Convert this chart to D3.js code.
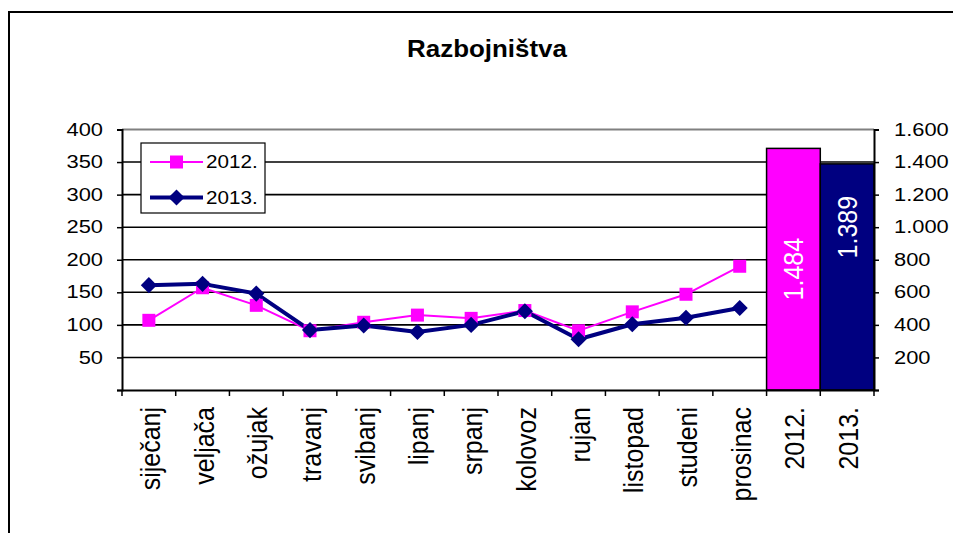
<!DOCTYPE html>
<html>
<head>
<meta charset="utf-8">
<script src="https://cdn.jsdelivr.net/npm/d3@7"></script>
<style>
body { margin: 0; background: #fff; }
svg { display: block; font-family: "Liberation Sans", Arial, sans-serif; }
</style>
</head>
<body>
<div id="container"></div>
<script>
const months = ["siječanj","veljača","ožujak","travanj","svibanj","lipanj","srpanj","kolovoz","rujan","listopad","studeni","prosinac"];
const years = ["2012.","2013."];
const values2012 = [107,157,130,91,104,115,110,122,91,120,147,190];
const values2013 = [161,163,148,92,99,89,100,121,78,101,111,126];
const totals = [1484,1389];
const totalLabelAt = [742,1000];
const leftTicks = [0,50,100,150,200,250,300,350,400];
const rightTicks = [0,200,400,600,800,1000,1200,1400,1600];

const w = 953, h = 533;
const plotL = 122, plotR = 874, plotT = 129.5, plotB = 390;
const pink = "#ff00ff", navy = "#000080";

const hr = d3.formatLocale({decimal: ",", thousands: ".", grouping: [3], currency: ["", ""]});
const fmt = hr.format(",d");

// stretch text horizontally a bit, the source fonts render wide
function widen(sel, k) {
  sel.each(function() {
    const len = this.getComputedTextLength();
    d3.select(this).attr("textLength", len * k).attr("lengthAdjust", "spacingAndGlyphs");
  });
}

const svg = d3.select("#container").append("svg")
  .attr("width", w)
  .attr("height", h);

// outer chart frame (runs off the picture on right/bottom)
svg.append("rect")
  .attr("x", 9).attr("y", 12)
  .attr("width", 1000).attr("height", 600)
  .attr("fill", "none")
  .attr("stroke", "#000")
  .attr("stroke-width", 2);

svg.append("text")
  .attr("x", 487).attr("y", 57)
  .attr("text-anchor", "middle")
  .style("font-size", "24px")
  .style("font-weight", "bold")
  .text("Razbojništva")
  .call(widen, 1.08);

const xScale = d3.scaleBand()
  .domain(months.concat(years))
  .range([plotL, plotR])
  .padding(0);

const yLeft = d3.scaleLinear().domain([0, 400]).range([plotB, plotT]);
const yRight = d3.scaleLinear().domain([0, 1600]).range([plotB, plotT]);

// gridlines
svg.append("g")
  .selectAll("line")
  .data(leftTicks.filter(d => d > 0 && d < 400))
  .enter()
  .append("line")
  .attr("x1", plotL).attr("x2", plotR)
  .attr("y1", d => yLeft(d)).attr("y2", d => yLeft(d))
  .attr("stroke", "#000")
  .attr("stroke-width", 1.6);

svg.append("line")
  .attr("x1", plotL).attr("x2", plotR)
  .attr("y1", yLeft(400)).attr("y2", yLeft(400))
  .attr("stroke", "#808080")
  .attr("stroke-width", 2);

// yearly totals on the right axis
svg.append("g")
  .selectAll("rect")
  .data(totals)
  .enter()
  .append("rect")
  .attr("x", (d, i) => xScale(years[i]))
  .attr("y", d => yRight(d))
  .attr("width", xScale.bandwidth())
  .attr("height", d => plotB - yRight(d))
  .attr("fill", (d, i) => i === 0 ? pink : navy)
  .attr("stroke", "#000")
  .attr("stroke-width", 1.5);

svg.append("g")
  .selectAll("text")
  .data(totals)
  .enter()
  .append("text")
  .attr("transform", (d, i) => "translate(" + (xScale(years[i]) + xScale.bandwidth() / 2) + "," + yRight(totalLabelAt[i]) + ") rotate(-90) scale(1,1.1)")
  .attr("dy", "0.36em")
  .attr("text-anchor", "middle")
  .attr("fill", "#fff")
  .style("font-size", "25px")
  .text(d => fmt(d));

// monthly lines
const cx = m => xScale(m) + xScale.bandwidth() / 2;
const line = d3.line().x((d, i) => cx(months[i])).y(d => yLeft(d));

svg.append("path")
  .datum(values2012)
  .attr("d", line)
  .attr("fill", "none")
  .attr("stroke", pink)
  .attr("stroke-width", 2);

svg.append("path")
  .datum(values2013)
  .attr("d", line)
  .attr("fill", "none")
  .attr("stroke", navy)
  .attr("stroke-width", 4)
  .attr("stroke-linejoin", "round");

const square = d3.symbol(d3.symbolSquare, 169);
const diamond = d3.symbol(d3.symbolSquare, 130);

svg.append("g")
  .selectAll("path")
  .data(values2012)
  .enter()
  .append("path")
  .attr("d", square)
  .attr("transform", (d, i) => "translate(" + cx(months[i]) + "," + yLeft(d) + ")")
  .attr("fill", pink);

svg.append("g")
  .selectAll("path")
  .data(values2013)
  .enter()
  .append("path")
  .attr("d", diamond)
  .attr("transform", (d, i) => "translate(" + cx(months[i]) + "," + yLeft(d) + ") rotate(45)")
  .attr("fill", navy);

// axes
const leftAxis = d3.axisLeft(yLeft).tickValues(leftTicks).tickSizeOuter(0).tickSize(5).tickPadding(14)
  .tickFormat(d => d === 0 ? "" : d);
const rightAxis = d3.axisRight(yRight).tickValues(rightTicks).tickSizeOuter(0).tickSize(5).tickPadding(15)
  .tickFormat(d => d === 0 ? "" : fmt(d));
const bottomAxis = d3.axisBottom(xScale).tickSizeOuter(0).tickSize(0);

const gx = svg.append("g")
  .attr("id", "x-axis")
  .attr("transform", "translate(0," + plotB + ")")
  .call(bottomAxis);
gx.select(".domain").attr("stroke-width", 2);
gx.selectAll(".tick text")
  .attr("transform", "rotate(-90) scale(1,1.1)")
  .attr("x", -17)
  .attr("y", 0)
  .attr("dy", "0.4em")
  .style("text-anchor", "end")
  .style("font-size", "25px")
  .attr("fill", "#000")
  .style("font-family", "Liberation Sans, Arial, sans-serif");

// x tick marks sit on band edges
svg.append("g")
  .selectAll("line")
  .data(d3.range(15))
  .enter()
  .append("line")
  .attr("x1", i => plotL + i * xScale.step())
  .attr("x2", i => plotL + i * xScale.step())
  .attr("y1", plotB).attr("y2", plotB + 6)
  .attr("stroke", "#000")
  .attr("stroke-width", 1.5);

const gl = svg.append("g")
  .attr("id", "y-axis")
  .attr("transform", "translate(" + plotL + ",0)")
  .call(leftAxis);
const gr = svg.append("g")
  .attr("id", "y-axis-right")
  .attr("transform", "translate(" + plotR + ",0)")
  .call(rightAxis);

[gl, gr].forEach(g => {
  g.select(".domain").attr("stroke-width", 2);
  g.selectAll(".tick line").attr("stroke-width", 1.5);
  g.selectAll(".tick text")
    .attr("fill", "#000")
    .style("font-size", "17.5px")
    .style("font-family", "Liberation Sans, Arial, sans-serif")
    .call(widen, 1.25);
});

// legend
const legend = svg.append("g").attr("transform", "translate(141,143)");
legend.append("rect")
  .attr("width", 124).attr("height", 70)
  .attr("fill", "#fff")
  .attr("stroke", "#000")
  .attr("stroke-width", 1.2);

const series = [
  {name: years[0], color: pink, width: 2, shape: square, rot: 0},
  {name: years[1], color: navy, width: 4, shape: diamond, rot: 45}
];
const entry = legend.selectAll(".entry")
  .data(series)
  .enter()
  .append("g")
  .attr("transform", (d, i) => "translate(0," + (19 + i * 35.5) + ")");
entry.append("line")
  .attr("x1", 9).attr("x2", 62)
  .attr("stroke", d => d.color)
  .attr("stroke-width", d => d.width);
entry.append("path")
  .attr("d", d => d.shape())
  .attr("transform", d => "translate(35.5,0) rotate(" + d.rot + ")")
  .attr("fill", d => d.color);
entry.append("text")
  .attr("x", 65)
  .attr("dy", "0.36em")
  .style("font-size", "17.5px")
  .text(d => d.name)
  .call(widen, 1.18);
</script>
</body>
</html>
